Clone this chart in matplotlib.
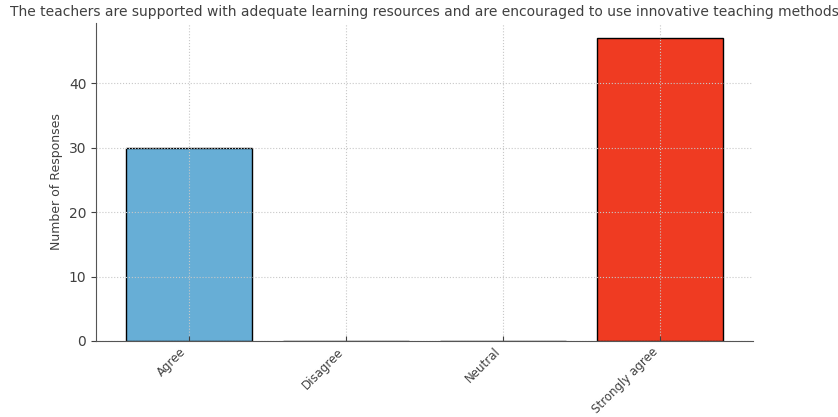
import matplotlib
matplotlib.use("Agg")
import matplotlib.pyplot as plt

# survey answers
categories = ["Agree", "Disagree", "Neutral", "Strongly agree"]
counts = [30, 0, 0, 47]
colors = ["#67aed6", "#67aed6", "#67aed6", "#ef3b22"]

title = "The teachers are supported with adequate learning resources and are encouraged to use innovative teaching methods"

fig = plt.figure(figsize=(8.38, 4.17), dpi=100)
ax = fig.add_axes([0.1146, 0.1823, 0.784, 0.7625])

ax.bar(categories, counts, color=colors, edgecolor="black", linewidth=1.0)

ax.set_title(title, fontsize=10, color="#404040", pad=5)
ax.set_ylabel("Number of Responses", fontsize=9, color="#404040")

ax.grid(True, linestyle=":", color="#c8c8c8", linewidth=0.8)
for side in ["top", "right"]:
    ax.spines[side].set_visible(False)
for side in ["left", "bottom"]:
    ax.spines[side].set_color("#555555")

ax.tick_params(axis="x", direction="in", labelsize=8.5, colors="#404040", pad=3)
ax.tick_params(axis="y", labelsize=10, colors="#404040")
plt.setp(ax.get_xticklabels(), rotation=45, ha="right")

fig.savefig("out.png", dpi=100)
